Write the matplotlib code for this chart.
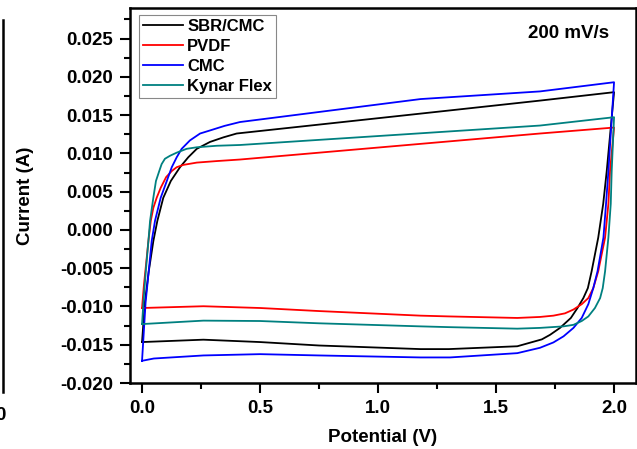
import matplotlib.pyplot as plt
from matplotlib.lines import Line2D
from matplotlib.ticker import MultipleLocator

plt.rcParams['font.family'] = ['Liberation Sans', 'DejaVu Sans']

# ---------------------- Data ---------------------- #
labels = ["SBR/CMC", "PVDF", "CMC", "Kynar Flex"]
colors = ["black", "#ff0000", "#0000ff", "#008080"]

# forward sweep (upper branch), 0 V -> 2 V
sbr_fwd_v = [0.0, 0.012, 0.028, 0.048, 0.065, 0.090, 0.122, 0.161, 0.196, 0.232, 0.288, 0.345, 0.401, 1.18, 1.686, 2.0]
sbr_fwd_i = [-0.01465, -0.0095, -0.0055, -0.00144, 0.0012, 0.0042, 0.0064, 0.0082, 0.0095, 0.0106, 0.0115, 0.0121, 0.0126, 0.0152, 0.0169, 0.0180]
pvdf_fwd_v = [0.0, 0.008, 0.017, 0.027, 0.037, 0.048, 0.062, 0.079, 0.102, 0.126, 0.147, 0.175, 0.232, 0.317, 0.415, 1.686, 2.0]
pvdf_fwd_i = [-0.0102, -0.0072, -0.0045, -0.00144, 0.00118, 0.0029, 0.0042, 0.0055, 0.0069, 0.0077, 0.0082, 0.0085, 0.0088, 0.0090, 0.0092, 0.0126, 0.01338]
cmc_fwd_v = [0.0, 0.015, 0.028, 0.041, 0.055, 0.079, 0.105, 0.126, 0.147, 0.168, 0.203, 0.246, 0.288, 0.35, 0.415, 1.18, 1.686, 2.0]
cmc_fwd_i = [-0.0171, -0.0095, -0.0055, -0.00144, 0.0012, 0.0042, 0.0064, 0.0082, 0.0095, 0.0106, 0.0117, 0.0126, 0.0130, 0.0136, 0.0141, 0.0171, 0.0181, 0.0193]
kynar_fwd_v = [0.0, 0.008, 0.017, 0.027, 0.034, 0.048, 0.059, 0.073, 0.083, 0.097, 0.119, 0.147, 0.189, 0.232, 0.317, 0.415, 1.686, 2.0]
kynar_fwd_i = [-0.0123, -0.0085, -0.0050, -0.00144, 0.00118, 0.00424, 0.0064, 0.0077, 0.0086, 0.0093, 0.0097, 0.0101, 0.0106, 0.0108, 0.0110, 0.0111, 0.01364, 0.01473]

# reverse sweep (lower branch), 2 V -> 0 V
sbr_rev_v = [2.0, 1.969, 1.954, 1.933, 1.905, 1.889, 1.870, 1.845, 1.817, 1.771, 1.729, 1.694, 1.59, 1.3, 1.18, 0.75, 0.5, 0.26, 0.0]
sbr_rev_i = [0.0180, 0.0077, 0.0034, -0.0010, -0.0054, -0.0076, -0.0089, -0.0102, -0.0115, -0.0128, -0.0137, -0.0143, -0.0152, -0.01557, -0.01557, -0.0151, -0.01465, -0.01434, -0.01465]
pvdf_rev_v = [2.0, 1.983, 1.976, 1.962, 1.933, 1.912, 1.891, 1.863, 1.828, 1.792, 1.743, 1.686, 1.59, 1.3, 1.18, 0.75, 0.5, 0.26, 0.0]
pvdf_rev_i = [0.01338, 0.0077, 0.0034, -0.0010, -0.0054, -0.0076, -0.0089, -0.0097, -0.0104, -0.0109, -0.0112, -0.01137, -0.0115, -0.0113, -0.0112, -0.0106, -0.0102, -0.00997, -0.0102]
cmc_rev_v = [2.0, 1.976, 1.966, 1.955, 1.930, 1.912, 1.891, 1.863, 1.828, 1.786, 1.743, 1.686, 1.59, 1.305, 1.18, 0.75, 0.5, 0.26, 0.05, 0.0]
cmc_rev_i = [0.0193, 0.0077, 0.0034, -0.0010, -0.0054, -0.0076, -0.0097, -0.0115, -0.0128, -0.0139, -0.0147, -0.0154, -0.0161, -0.01666, -0.01666, -0.0164, -0.01623, -0.0164, -0.0168, -0.0171]
kynar_rev_v = [2.0, 1.990, 1.986, 1.976, 1.962, 1.952, 1.941, 1.919, 1.891, 1.863, 1.828, 1.786, 1.686, 1.59, 1.3, 1.18, 0.75, 0.5, 0.26, 0.0]
kynar_rev_i = [0.01473, 0.0077, 0.0034, -0.0010, -0.0054, -0.0076, -0.0089, -0.0102, -0.0113, -0.0119, -0.0124, -0.0126, -0.0128, -0.0129, -0.0127, -0.0126, -0.0122, -0.0119, -0.01185, -0.0123]

fwd_v = [sbr_fwd_v, pvdf_fwd_v, cmc_fwd_v, kynar_fwd_v]
fwd_i = [sbr_fwd_i, pvdf_fwd_i, cmc_fwd_i, kynar_fwd_i]
rev_v = [sbr_rev_v, pvdf_rev_v, cmc_rev_v, kynar_rev_v]
rev_i = [sbr_rev_i, pvdf_rev_i, cmc_rev_i, kynar_rev_i]

# ---------------------- Plot ---------------------- #
fig = plt.figure(figsize=(6.37, 4.49), dpi=100)
ax = fig.add_axes([130 / 637, 66 / 449, 506 / 637, 375 / 449])

for k in range(len(labels)):
    # one closed loop: forward sweep then reverse sweep
    v = fwd_v[k] + rev_v[k]
    i = fwd_i[k] + rev_i[k]
    ax.plot(v, i, color=colors[k], lw=1.3, label=labels[k], solid_joinstyle='round')

ax.set_xlim(-0.051, 2.093)
ax.set_ylim(-0.020, 0.029)
ax.xaxis.set_major_locator(MultipleLocator(0.5))
ax.xaxis.set_minor_locator(MultipleLocator(0.25))
ax.yaxis.set_major_locator(MultipleLocator(0.005))
ax.yaxis.set_minor_locator(MultipleLocator(0.0025))
ax.yaxis.set_major_formatter(plt.FormatStrFormatter('%.3f'))
ax.xaxis.set_major_formatter(plt.FormatStrFormatter('%.1f'))

ax.tick_params(which='both', direction='out', width=1.5, top=False, right=False)
ax.tick_params(which='major', length=7, labelsize=13.5, pad=5)
ax.tick_params(which='minor', length=4)
for lab in ax.get_xticklabels() + ax.get_yticklabels():
    lab.set_fontweight('bold')
for sp in ax.spines.values():
    sp.set_linewidth(1.8)

ax.set_xlabel("Potential (V)", fontsize=13.5, fontweight='bold')
ax.set_ylabel("Current (A)", fontsize=13.5, fontweight='bold')
ax.xaxis.label.set_va('center')
ax.yaxis.label.set_va('center')
ax.xaxis.set_label_coords(0.5, (383 - 437) / 375)
ax.yaxis.set_label_coords((25 - 130) / 506, 0.5)

leg = ax.legend(loc='upper left', bbox_to_anchor=(9 / 506, 1 - 7 / 375), borderaxespad=0,
                prop={'weight': 'bold', 'size': 12}, fancybox=False, framealpha=1,
                edgecolor='#888888', handlelength=2.4, handletextpad=0.25, labelspacing=0.3,
                borderpad=0.25)
leg.get_frame().set_linewidth(0.8)

ax.text(0.947, 0.933, "200 mV/s", transform=ax.transAxes, ha='right', va='center',
        fontsize=13.5, fontweight='bold')

# piece of the neighbouring panel cut off at the left edge
fig.add_artist(Line2D([3 / 637, 3 / 637], [1 - 20 / 449, 1 - 392 / 449], color='black', lw=1.8))
fig.text(0.0, 1 - 415 / 449, "0", fontsize=13.5, fontweight='bold', ha='center', va='center')

fig.savefig("out.png", dpi=100)
